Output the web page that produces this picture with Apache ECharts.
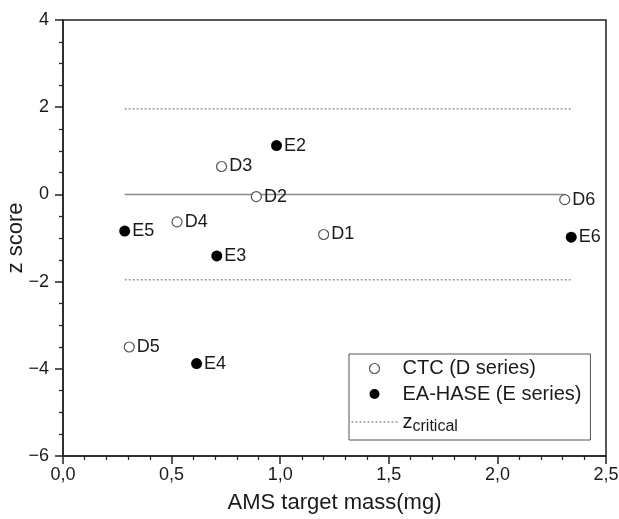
<!DOCTYPE html>
<html>
<head>
<meta charset="utf-8">
<script src="https://cdn.jsdelivr.net/npm/echarts@6/dist/echarts.min.js"></script>
<style>
  html, body { margin: 0; padding: 0; background: #fff; }
  #chart { width: 619px; height: 519px; }
</style>
</head>
<body>
<div id="chart"></div>
<script>
// CTC (D series) targets: mass (mg) and z score
const dNames = ['D1', 'D2', 'D3', 'D4', 'D5', 'D6'];
const dMass  = [1.20, 0.89, 0.73, 0.525, 0.305, 2.31];
const dZ     = [-0.92, -0.05, 0.64, -0.63, -3.50, -0.12];

// EA-HASE (E series) targets
const eNames = ['E2', 'E3', 'E4', 'E5', 'E6'];
const eMass  = [0.983, 0.708, 0.615, 0.284, 2.34];
const eZ     = [1.12, -1.41, -3.88, -0.84, -0.98];

// Reference lines: zero line and the critical z limits
const zeroLine = { from: 0.284, to: 2.31, z: 0 };
const zCritical = { from: 0.284, to: 2.343, z: 1.96 };

// Axis tick labels
const xTickLabels = ['0,0', '0,5', '1,0', '1,5', '2,0', '2,5'];
const yTickLabels = { '-6': '\u22126', '-4': '\u22124', '-2': '\u22122', '0': '0', '2': '2', '4': '4' };

const legendNames = ['CTC (D series)', 'EA-HASE (E series)', 'zcritical'];

const FONT = 'Liberation Sans, Arial, sans-serif';
const INK = '#1a1a1a';

const chart = echarts.init(document.getElementById('chart'), null, { renderer: 'canvas' });

const pointLabel = {
  show: true,
  position: 'right',
  distance: 2,
  formatter: p => p.data.name,
  fontFamily: FONT,
  fontSize: 18,
  color: INK
};

chart.setOption({
  animation: false,
  backgroundColor: '#fff',
  grid: {
    left: 63, right: 13, top: 20, bottom: 63,
    outerBoundsMode: 'none',
    containLabel: false,
    show: true, borderColor: '#222', borderWidth: 1.5, backgroundColor: 'transparent'
  },
  xAxis: {
    type: 'value', min: 0, max: 2.5, interval: 0.5,
    name: 'AMS target mass(mg)', nameLocation: 'middle', nameGap: 36,
    nameMoveOverlap: false,
    nameTextStyle: { fontFamily: FONT, fontSize: 22, color: INK },
    axisLine: { show: true, onZero: false, lineStyle: { color: '#222', width: 1.5 } },
    axisTick: { show: true, inside: false, length: 8, lineStyle: { color: '#222', width: 1.5 } },
    minorTick: { show: true, splitNumber: 5, length: 4, lineStyle: { color: '#222', width: 1.2 } },
    splitLine: { show: false },
    axisLabel: {
      margin: 10, fontFamily: FONT, fontSize: 18, color: INK,
      formatter: v => xTickLabels[Math.round(v / 0.5)]
    }
  },
  yAxis: {
    type: 'value', min: -6, max: 4, interval: 2,
    name: 'z score', nameLocation: 'middle', nameGap: 36,
    nameMoveOverlap: false,
    nameTextStyle: { fontFamily: FONT, fontSize: 22, color: INK },
    axisLine: { show: true, onZero: false, lineStyle: { color: '#222', width: 1.5 } },
    axisTick: { show: true, inside: false, length: 8, lineStyle: { color: '#222', width: 1.5 } },
    minorTick: { show: true, splitNumber: 4, length: 4, lineStyle: { color: '#222', width: 1.2 } },
    splitLine: { show: false },
    axisLabel: {
      margin: 14, fontFamily: FONT, fontSize: 18, color: INK,
      formatter: v => yTickLabels[String(Math.round(v))]
    }
  },
  legend: {
    orient: 'vertical',
    left: 349, top: 354,
    padding: [4, 9, 5, 2],
    itemGap: 4.5,
    itemWidth: 46, itemHeight: 10,
    borderColor: '#555', borderWidth: 1,
    selectedMode: false,
    textStyle: {
      fontFamily: FONT, fontSize: 20, color: INK, lineHeight: 21,
      rich: {
        z: { fontFamily: FONT, fontSize: 20, lineHeight: 21, color: INK },
        sub: { fontFamily: FONT, fontSize: 16, lineHeight: 11, padding: [10, 0, 0, 0], color: INK }
      }
    },
    formatter: name => name === 'zcritical' ? '{z|z}{sub|critical}' : name,
    data: [
      { name: legendNames[0], itemStyle: { borderWidth: 1.2 } },
      { name: legendNames[1] },
      { name: legendNames[2], lineStyle: { width: 1 }, itemStyle: { opacity: 0, borderWidth: 0 } }
    ]
  },
  series: [
    {
      name: 'zero', type: 'line', silent: true, symbol: 'none',
      lineStyle: { color: '#8a8a8a', width: 1.5 },
      data: [[zeroLine.from, zeroLine.z], [zeroLine.to, zeroLine.z]],
      z: 1
    },
    {
      name: legendNames[2], type: 'line', silent: true, symbol: 'none',
      itemStyle: { color: '#666' },
      lineStyle: { color: '#666', width: 1, type: [2, 2] },
      data: [[zCritical.from, zCritical.z], [zCritical.to, zCritical.z]],
      z: 1
    },
    {
      name: legendNames[2], type: 'line', silent: true, symbol: 'none',
      itemStyle: { color: '#666' },
      lineStyle: { color: '#666', width: 1, type: [2, 2] },
      data: [[zCritical.from, -zCritical.z], [zCritical.to, -zCritical.z]],
      z: 1
    },
    {
      name: legendNames[0], type: 'scatter', symbol: 'circle', symbolSize: 10,
      itemStyle: { color: '#fff', borderColor: '#555', borderWidth: 1.2, opacity: 1 },
      label: pointLabel,
      data: dNames.map((n, i) => ({ name: n, value: [dMass[i], dZ[i]] })),
      z: 3
    },
    {
      name: legendNames[1], type: 'scatter', symbol: 'circle', symbolSize: 11,
      itemStyle: { color: '#000', opacity: 1 },
      label: pointLabel,
      data: eNames.map((n, i) => ({ name: n, value: [eMass[i], eZ[i]] })),
      z: 3
    }
  ]
});
</script>
</body>
</html>
